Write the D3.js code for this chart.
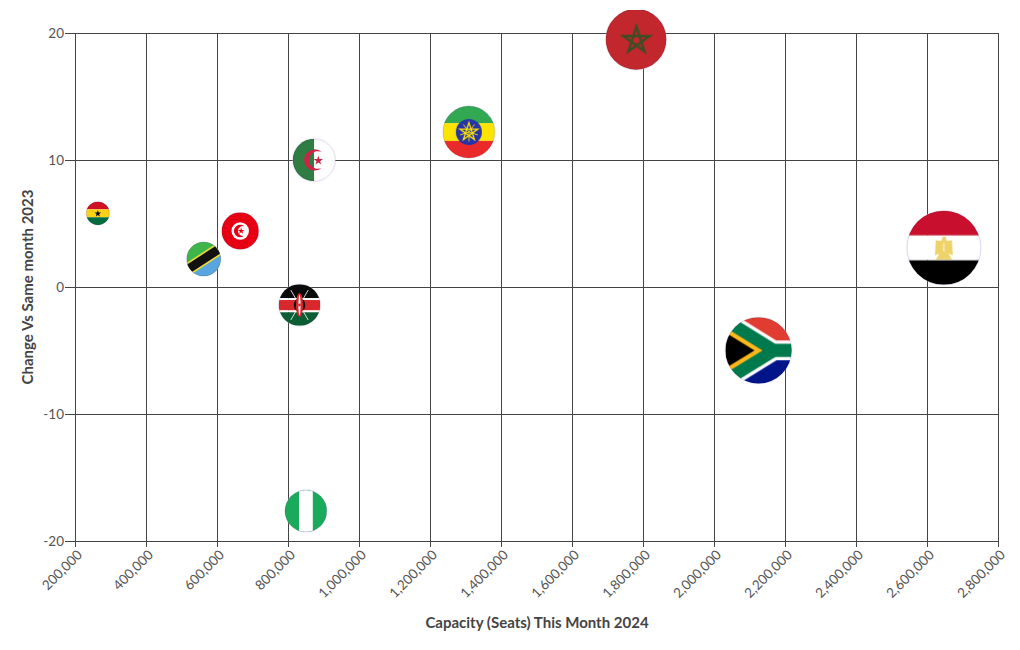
<!DOCTYPE html>
<html>
<head>
<meta charset="utf-8">
<script src="https://cdn.jsdelivr.net/npm/d3@7"></script>
<style>
  body { margin: 0; background: #fff; }
  text { font-family: Lato, "Open Sans", sans-serif; }
</style>
</head>
<body>
<div id="chart"></div>
<script>
var countries = ["Ghana", "Tanzania", "Tunisia", "Kenya", "Nigeria", "Algeria", "Ethiopia", "Morocco", "South Africa", "Egypt"];
var capacity = [263000, 561000, 664000, 831000, 849000, 872000, 1308000, 1779000, 2124000, 2646000];
var change = [5.84, 2.24, 4.45, -1.38, -17.6, 10.04, 12.24, 19.54, -4.95, 3.13];
var xTicks = [200000, 400000, 600000, 800000, 1000000, 1200000, 1400000, 1600000, 1800000, 2000000, 2200000, 2400000, 2600000, 2800000];
var yTicks = [-20, -10, 0, 10, 20];

var svg = d3.select("#chart").append("svg")
  .attr("width", 1020)
  .attr("height", 650);

var x = d3.scaleLinear().domain([200000, 2800000]).range([75.5, 998.5]);
var y = d3.scaleLinear().domain([-20, 20]).range([541.5, 33.5]);
var r = d3.scaleSqrt().domain([0, 2646000]).range([0, 37]);

// the axes add their own half pixel, so they use rounded copies of the scales
var xAxisScale = x.copy().range([75, 998]);
var yAxisScale = y.copy().range([541, 33]);

var lineColor = "#444", textColor = "#555";

// grid
svg.append("g").attr("transform", "translate(0,541)")
  .call(d3.axisBottom(xAxisScale).tickValues(xTicks).tickSize(-508).tickFormat(""))
  .call(function(g) { g.select(".domain").remove(); g.selectAll("line").attr("stroke", lineColor); });
svg.append("g").attr("transform", "translate(75,0)")
  .call(d3.axisLeft(yAxisScale).tickValues(yTicks).tickSize(-923).tickFormat(""))
  .call(function(g) { g.select(".domain").remove(); g.selectAll("line").attr("stroke", lineColor); });

// axes
var xAxis = svg.append("g").attr("transform", "translate(0,541)")
  .call(d3.axisBottom(xAxisScale).tickValues(xTicks).tickSize(6).tickFormat(d3.format(",")));
xAxis.select(".domain").remove();
xAxis.selectAll("line").attr("stroke", lineColor);
xAxis.selectAll("text")
  .attr("fill", textColor)
  .attr("font-size", 13.5)
  .attr("text-anchor", "end")
  .attr("transform", "rotate(-45)")
  .attr("x", -5)
  .attr("y", 11)
  .attr("dy", "0.35em");

var yAxis = svg.append("g").attr("transform", "translate(75,0)")
  .call(d3.axisLeft(yAxisScale).tickValues(yTicks).tickSize(10).tickFormat(function(d) { return String(d); }));
yAxis.select(".domain").remove();
yAxis.selectAll("line").attr("stroke", lineColor);
yAxis.selectAll("text").attr("fill", textColor).attr("font-size", 13.5).attr("x", -11);

svg.append("text")
  .attr("x", 537).attr("y", 628)
  .attr("text-anchor", "middle")
  .attr("font-size", 15).attr("font-weight", 700).attr("fill", lineColor)
  .text("Capacity (Seats) This Month 2024");
svg.append("text")
  .attr("transform", "translate(33,287) rotate(-90)")
  .attr("text-anchor", "middle")
  .attr("font-size", 15).attr("font-weight", 700).attr("fill", lineColor)
  .text("Change Vs Same month 2023");

// flags are drawn in a unit circle, then scaled to the bubble radius
function rect(g, color, x0, y0, x1, y1) {
  g.append("rect").attr("x", x0).attr("y", y0).attr("width", x1 - x0).attr("height", y1 - y0).attr("fill", color);
}
function poly(g, color, pts) {
  g.append("polygon").attr("points", pts.join(" ")).attr("fill", color);
}
function star(g, color, cx, cy, size) {
  g.append("path")
    .attr("d", d3.symbol().type(d3.symbolStar).size(size)())
    .attr("transform", "translate(" + cx + "," + cy + ")")
    .attr("fill", color);
}
function pentagram(g, color, cx, cy, rad, width) {
  var pts = d3.range(5).map(function(i) {
    var a = -Math.PI / 2 + i * 2 * 2 * Math.PI / 5;
    return [cx + rad * Math.cos(a), cy + rad * Math.sin(a)];
  });
  g.append("polygon").attr("points", pts.join(" "))
    .attr("fill", "none").attr("stroke", color).attr("stroke-width", width).attr("stroke-linejoin", "miter");
}

var flags = {
  "Ghana": function(g) {
    rect(g, "#ce1126", -1, -1, 1, -0.34);
    rect(g, "#fcd116", -1, -0.34, 1, 0.34);
    rect(g, "#006b3f", -1, 0.34, 1, 1);
    star(g, "#000", 0, 0.02, 0.1);
  },
  "Tanzania": function(g) {
    rect(g, "#3eb54a", -1, -1, 1, 1);
    poly(g, "#58a5e0", [[1.2, -1], [1.2, 1], [-1.2, 1]]);
    g.append("line").attr("x1", -1.2).attr("y1", 0.78).attr("x2", 1.2).attr("y2", -0.78)
      .attr("stroke", "#e8d93a").attr("stroke-width", 0.72);
    g.append("line").attr("x1", -1.2).attr("y1", 0.78).attr("x2", 1.2).attr("y2", -0.78)
      .attr("stroke", "#111").attr("stroke-width", 0.52);
  },
  "Tunisia": function(g) {
    rect(g, "#e70013", -1, -1, 1, 1);
    g.append("circle").attr("r", 0.47).attr("fill", "#fff");
    g.append("path").attr("d", "M0.22,-0.26A0.34,0.34 0 1 0 0.22,0.26A0.27,0.27 0 1 1 0.22,-0.26Z").attr("fill", "#e70013");
    star(g, "#e70013", 0.05, 0, 0.04);
  },
  "Kenya": function(g) {
    rect(g, "#0a0a0a", -1, -1, 1, -0.33);
    rect(g, "#fff", -1, -0.33, 1, -0.24);
    rect(g, "#d8282c", -1, -0.24, 1, 0.26);
    rect(g, "#fff", -1, 0.26, 1, 0.35);
    rect(g, "#0b5d34", -1, 0.35, 1, 1);
    [-1, 1].forEach(function(s) {
      g.append("line").attr("x1", s * 0.42).attr("y1", -0.72).attr("x2", -s * 0.42).attr("y2", 0.72)
        .attr("stroke", "#fff").attr("stroke-width", 0.04);
    });
    g.append("ellipse").attr("rx", 0.28).attr("ry", 0.32).attr("fill", "#111");
    g.append("ellipse").attr("rx", 0.17).attr("ry", 0.58).attr("fill", "#d8282c");
    g.append("ellipse").attr("rx", 0.05).attr("ry", 0.5).attr("fill", "#fff");
    g.append("circle").attr("r", 0.07).attr("fill", "#d8282c");
  },
  "Nigeria": function(g) {
    rect(g, "#1aaa5c", -1, -1, 1, 1);
    rect(g, "#fff", -0.33, -1, 0.33, 1);
  },
  "Algeria": function(g) {
    rect(g, "#fff", -1, -1, 1, 1);
    rect(g, "#2f7d43", -1, -1, 0, 1);
    g.append("path").attr("d", "M0.37,-0.37A0.5,0.5 0 1 0 0.37,0.37A0.417,0.417 0 1 1 0.37,-0.37Z").attr("fill", "#cf2345");
    star(g, "#cf2345", 0.2, 0.03, 0.06);
  },
  "Ethiopia": function(g) {
    rect(g, "#33a852", -1, -1, 1, -0.34);
    rect(g, "#fde400", -1, -0.34, 1, 0.34);
    rect(g, "#ea2a2a", -1, 0.34, 1, 1);
    g.append("circle").attr("r", 0.5).attr("fill", "#2733a8");
    d3.range(5).forEach(function(i) {
      var a = -Math.PI / 2 + (i + 0.5) * 2 * Math.PI / 5;
      g.append("line").attr("x2", 0.36 * Math.cos(a)).attr("y2", 0.36 * Math.sin(a))
        .attr("stroke", "#fde400").attr("stroke-width", 0.035);
    });
    pentagram(g, "#fde400", 0, 0, 0.36, 0.05);
  },
  "Morocco": function(g) {
    rect(g, "#c1272d", -1, -1, 1, 1);
    pentagram(g, "#3f4d24", 0.01, 0.03, 0.45, 0.08);
  },
  "South Africa": function(g) {
    rect(g, "#e03c31", -1, -1, 1, 0);
    rect(g, "#001489", -1, 0, 1, 1);
    var pall = "M-1.1,-0.96L0.45,0L-1.1,0.96M0.45,0L1.1,0";
    g.append("path").attr("d", pall).attr("fill", "none").attr("stroke", "#fff").attr("stroke-width", 0.6).attr("stroke-miterlimit", 10);
    g.append("path").attr("d", pall).attr("fill", "none").attr("stroke", "#007a4d").attr("stroke-width", 0.4).attr("stroke-miterlimit", 10);
    poly(g, "#ffb81c", [[-1.1, -0.75], [0.12, 0], [-1.1, 0.75]]);
    poly(g, "#000", [[-1.1, -0.6], [-0.12, 0], [-1.1, 0.6]]);
  },
  "Egypt": function(g) {
    rect(g, "#c8102e", -1, -1, 1, -0.33);
    rect(g, "#fff", -1, -0.33, 1, 0.34);
    rect(g, "#000", -1, 0.34, 1, 1);
    // eagle
    poly(g, "#efd36a", [[-0.03, -0.3], [0.05, -0.3], [0.07, -0.18], [0.22, -0.2], [0.24, 0.2], [0.12, 0.16], [0.22, 0.32], [-0.22, 0.32], [-0.12, 0.16], [-0.24, 0.2], [-0.22, -0.2], [-0.07, -0.18]]);
    rect(g, "#fff6d0", -0.015, -0.12, 0.015, 0.1);
  }
};

var defs = svg.append("defs");
defs.append("clipPath").attr("id", "plot-clip")
  .append("rect").attr("x", 0).attr("y", 10.5).attr("width", 1020).attr("height", 640);
defs.append("clipPath").attr("id", "flag-clip")
  .append("circle").attr("r", 1);

var markers = svg.append("g").attr("clip-path", "url(#plot-clip)");

countries.forEach(function(name, i) {
  var rad = r(capacity[i]);
  var g = markers.append("g")
    .attr("transform", "translate(" + x(capacity[i]) + "," + y(change[i]) + ") scale(" + rad + ")");
  var inner = g.append("g").attr("clip-path", "url(#flag-clip)");
  flags[name](inner);
  // faint edge, only shows where the flag is white
  g.append("circle").attr("r", 1).attr("fill", "none")
    .attr("stroke", "#c9bfe0").attr("stroke-width", 0.7 / rad)
    .style("mix-blend-mode", "multiply");
});
</script>
</body>
</html>
